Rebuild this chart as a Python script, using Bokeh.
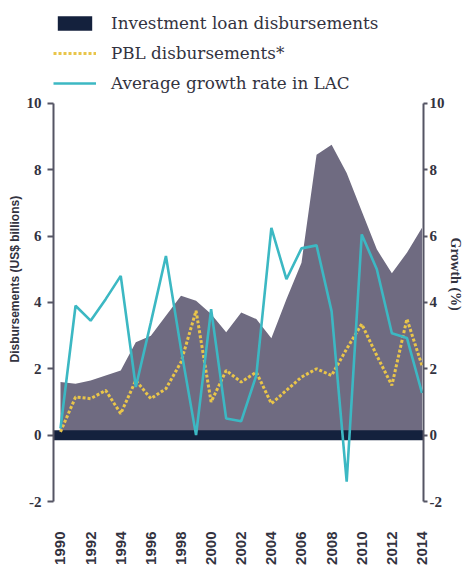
import math
from bokeh.plotting import figure
from bokeh.models import (Range1d, LinearAxis, FixedTicker, Legend, LegendItem,
                          Title, ColumnDataSource)
from bokeh.embed import file_html
from bokeh.resources import INLINE

# ---------------- data ----------------
years = list(range(1990, 2015))
total_disbursements = [1.6, 1.55, 1.65, 1.8, 1.95, 2.8, 3.0, 3.6, 4.2, 4.05,
                       3.65, 3.1, 3.7, 3.5, 2.92, 4.1, 5.2, 8.45, 8.75, 7.9,
                       6.75, 5.6, 4.88, 5.5, 6.25]
pbl_disbursements = [0.1, 1.15, 1.1, 1.35, 0.65, 1.65, 1.1, 1.4, 2.2, 3.75,
                     1.0, 1.95, 1.6, 1.9, 0.95, 1.35, 1.75, 2.0, 1.8, 2.6,
                     3.35, 2.4, 1.5, 3.5, 2.1]
growth_rate = [0.2, 3.9, 3.45, 4.1, 4.8, 1.45, 3.4, 5.4, 2.6, 0.0,
               3.8, 0.5, 0.42, 1.8, 6.25, 4.7, 5.63, 5.72, 3.73, -1.4,
               6.05, 5.0, 3.07, 2.93, 1.27]
investment_level = [0.0]
xtick_years = list(range(1990, 2015, 2))
ytick_values = [-2, 0, 2, 4, 6, 8, 10]
ytick_labels = ["-2", "0", "2", "4", "6", "8", "10"]
legend_labels = ["Investment loan disbursements", "PBL disbursements*",
                 "Average growth rate in LAC"]
left_title = "Disbursements (US$ billions)"
right_title = "Growth (%)"

# ---------------- styles ----------------
AREA = "#6f6b81"
NAVY = "#14213d"
CYAN = "#3cb8c3"
GOLD = "#e9c54a"
AXIS = "#555564"
TEXT = "#33333f"

X_START, X_END = 1989.536, 2014.1
Y_START, Y_END = -2.0, 12.71

p = figure(width=464, height=572, output_backend="svg", toolbar_location=None,
           x_range=Range1d(X_START, X_END), y_range=Range1d(Y_START, Y_END),
           min_border_left=53, min_border_right=40, min_border_top=13,
           min_border_bottom=71)
p.extra_y_ranges = {"growth": Range1d(Y_START, Y_END)}
p.outline_line_color = None
p.grid.visible = False
p.background_fill_color = None
p.border_fill_color = None

src = ColumnDataSource(dict(year=years, total=total_disbursements,
                            pbl=pbl_disbursements, growth=growth_rate))

p.varea(x="year", y1=0, y2="total", source=src, fill_color=AREA)
band = p.hbar(y=investment_level, height=0.3, left=X_START, right=X_END,
              fill_color=NAVY, line_color=None)
pbl = p.line("year", "pbl", source=src, line_color=GOLD, line_width=3,
             line_dash="3 2")
gr = p.line("year", "growth", source=src, line_color=CYAN, line_width=2.6,
            y_range_name="growth")

# ---------------- axes ----------------
xa = p.xaxis[0]
xa.ticker = FixedTicker(ticks=xtick_years)
xa.axis_line_color = None
xa.major_tick_line_color = None
xa.major_tick_in = 0
xa.major_tick_out = 0
xa.minor_tick_line_color = None
xa.major_label_orientation = math.pi / 2
xa.major_label_standoff = 30
xa.major_label_text_font = "Liberation Sans"
xa.major_label_text_font_style = "bold"
xa.major_label_text_font_size = "15px"
xa.major_label_text_color = TEXT

def style_y(ax, tick_out, standoff):
    ax.bounds = (-2, 10)
    ax.ticker = FixedTicker(ticks=ytick_values)
    ax.major_label_overrides = {v: s for v, s in zip(ytick_values, ytick_labels)}
    ax.axis_line_color = AXIS
    ax.axis_line_width = 2
    ax.major_tick_line_color = AXIS
    ax.major_tick_line_width = 2
    ax.major_tick_in = 0
    ax.major_tick_out = tick_out
    ax.minor_tick_line_color = None
    ax.major_label_standoff = standoff
    ax.major_label_text_font = "Liberation Serif"
    ax.major_label_text_font_style = "bold"
    ax.major_label_text_font_size = "15px"
    ax.major_label_text_color = TEXT

style_y(p.yaxis[0], 6, 6)
ra = LinearAxis(y_range_name="growth")
p.add_layout(ra, "right")
style_y(ra, 4, 2)

# axis titles as side titles (offset along the frame)
p.add_layout(Title(text=left_title, align="left", offset=139,
                   vertical_align="bottom", standoff=4,
                   text_font="Liberation Sans", text_font_style="bold",
                   text_font_size="12px", text_color=TEXT), "left")
p.add_layout(Title(text=right_title, align="left", offset=224,
                   vertical_align="bottom", standoff=0,
                   text_font="Liberation Serif", text_font_style="bold",
                   text_font_size="14px", text_color=TEXT), "right")

# ---------------- legend ----------------
legend = Legend(items=[LegendItem(label=legend_labels[0], renderers=[band]),
                       LegendItem(label=legend_labels[1], renderers=[pbl]),
                       LegendItem(label=legend_labels[2], renderers=[gr])],
                location="top_left", margin=0, padding=2, spacing=10,
                glyph_width=43, glyph_height=18, label_height=18,
                label_standoff=15, border_line_color=None,
                background_fill_alpha=0, label_text_font="DejaVu Serif",
                label_text_font_size="16.8px", label_text_color=TEXT)
p.add_layout(legend)

open("out.html", "w").write(file_html(p, INLINE))
